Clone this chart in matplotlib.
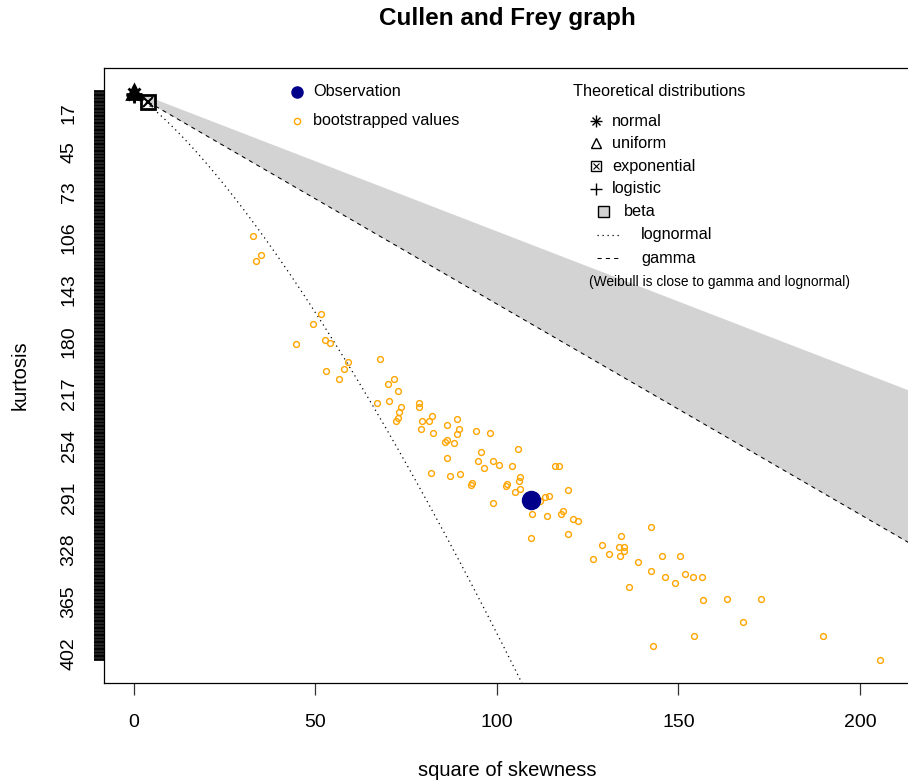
import numpy as np
import matplotlib
matplotlib.use("Agg")
import matplotlib.pyplot as plt
from matplotlib.lines import Line2D
from matplotlib.patches import Rectangle

plt.rcParams['font.family'] = ['Liberation Sans', 'DejaVu Sans']

# bootstrapped values (square of skewness, kurtosis)
boot_skew2 = [32.8, 35.0, 33.6, 51.5, 49.4, 52.6, 54.0, 44.6, 59.0, 57.9, 53.0, 56.5,
              67.8, 71.6, 69.9, 72.7, 67.1, 70.2, 73.7, 73.1, 72.7, 72.3,
              78.7, 78.7, 82.2, 79.3, 81.4,
              88.9, 86.4, 79.0, 82.5, 89.6, 88.9, 94.4, 98.0,
              85.6, 86.2, 88.1,
              105.7, 95.6, 94.8, 99.0, 100.5, 96.6, 104.3, 86.4,
              81.8, 87.0, 89.9,
              92.8, 93.2,
              106.5, 106.1, 102.9, 102.5, 106.5, 105.1,
              116.1, 117.2, 119.5,
              111.9, 113.2, 114.5, 99.0,
              109.6, 113.9, 118.1, 117.7, 121.0, 122.4,
              109.3, 119.5, 134.3, 129.0, 133.6, 135.0, 135.1, 130.8, 134.0, 126.5, 138.8,
              142.4, 145.5, 150.5, 142.4, 146.3, 151.9, 154.1, 156.5, 149.1, 136.4, 156.8, 154.3, 143.1,
              163.5, 172.7, 167.7, 189.9, 205.4]
boot_kurt = [104.6, 118.4, 122.2, 160.5, 167.0, 178.8, 180.7, 181.8, 194.6, 199.1, 200.8, 206.3,
             192.5, 206.3, 210.1, 214.7, 223.7, 222.0, 226.5, 230.1, 234.5, 236.5,
             223.7, 226.5, 233.0, 236.5, 236.5,
             234.7, 239.2, 242.0, 244.7, 242.0, 245.8, 243.7, 244.7,
             251.3, 250.1, 252.0,
             256.7, 258.5, 264.9, 265.0, 267.8, 269.7, 268.7, 263.0,
             273.3, 275.8, 274.2,
             282.3, 280.6,
             276.1, 279.0, 281.3, 282.6, 285.1, 287.1,
             268.7, 268.7, 285.3,
             293.5, 290.6, 289.7, 295.1,
             302.6, 304.4, 300.6, 302.6, 306.1, 308.0,
             319.9, 317.3, 318.3, 324.7, 326.5, 326.5, 329.4, 331.0, 332.8, 334.6, 337.1,
             311.9, 332.8, 332.8, 343.7, 347.6, 345.5, 347.6, 347.6, 352.1, 355.0, 364.0, 389.8, 396.9,
             363.0, 363.0, 379.5, 389.8, 407.1]

obs_skew2 = 109.3
obs_kurt = 292.6

kurtmax = 407
xmax = 205.4
ylab_shown = [17, 45, 73, 106, 143, 180, 217, 254, 291, 328, 365, 402]
xticks = [0, 50, 100, 150, 200]

W, H = 908, 784
fig = plt.figure(figsize=(W / 100, H / 100), dpi=100)
ax = fig.add_axes([103.9 / W, 1 - 683 / H, 806.2 / W, 615 / H])

# beta area, gamma and lognormal lines (theoretical)
s = np.linspace(0, 230, 400)
ax.fill_between(s, s + 1, 3 + 1.5 * s, color='lightgrey', lw=0)
ax.plot(s, 3 + 1.5 * s, color='black', lw=0.75, dashes=(4, 4))
es2 = np.exp(np.linspace(0, 1.3, 600) ** 2)
ln_s2 = (es2 + 2) ** 2 * (es2 - 1)
ln_k = es2 ** 4 + 2 * es2 ** 3 + 3 * es2 ** 2 - 3
ax.plot(ln_s2, ln_k, color='black', lw=0.9, dashes=(1, 3))

ax.plot(boot_skew2, boot_kurt, 'o', ms=4.2, mfc='none', mec='orange', mew=1.0)
ax.plot(obs_skew2, obs_kurt, 'o', ms=13, color='darkblue')

# theoretical distributions
ax.plot(0, 3, '+', ms=12, color='black', mew=2, clip_on=False)
ax.plot(0, 3, 'x', ms=9, color='black', mew=2, clip_on=False)
ax.plot(0, 1.8, '^', ms=10, mfc='none', color='black', mew=2, clip_on=False)
ax.plot(0, 4.2, '+', ms=12, color='black', mew=2, clip_on=False)
ax.plot(4, 9, 's', ms=10, mfc='none', color='black', mew=2, clip_on=False)
ax.plot(4, 9, 'x', ms=7, color='black', mew=1.5, clip_on=False)

ax.set_xlim(-0.04 * xmax, 1.04 * xmax + 0.2)
ax.set_ylim(kurtmax + 0.04 * (kurtmax - 1), 1 - 0.04 * (kurtmax - 1))

yt = np.arange(1, kurtmax + 1)
ax.set_yticks(yt)
ax.set_yticklabels([str(v) if v in ylab_shown else '' for v in yt],
                   rotation=90, va='center', fontsize=14)
ax.set_xticks(xticks)
ax.set_xticklabels([str(v) for v in xticks], fontsize=14)
ax.tick_params(axis='y', length=7.5, width=1.25, pad=11.5, color='black')
ax.tick_params(axis='x', length=8.5, width=0.9, pad=14, color='#333333')
for sp in ax.spines.values():
    sp.set_linewidth(0.9)
    sp.set_color('black')

fig.text(507 / W, 1 - 18 / H, 'Cullen and Frey graph', ha='center', va='center',
         fontsize=17.5, fontweight='bold')
fig.text(507 / W, 1 - 771 / H, 'square of skewness', ha='center', va='center', fontsize=14.5)
fig.text(20 / W, 1 - 375 / H, 'kurtosis', ha='center', va='center', rotation=90, fontsize=14.5)


def fx(px):
    return px / W


def fy(py):
    return 1 - py / H


def mark(px, py, **kw):
    fig.add_artist(Line2D([fx(px)], [fy(py)], transform=fig.transFigure, ls='none', **kw))


lf = 11.7
# first legend
mark(297, 92, marker='o', ms=8, color='darkblue')
fig.text(fx(313), fy(92), 'Observation', va='center', fontsize=lf)
mark(297, 121, marker='o', ms=4.5, mfc='none', mec='orange', mew=1)
fig.text(fx(313), fy(121), 'bootstrapped values', va='center', fontsize=lf)

# second legend
fig.text(fx(573), fy(92), 'Theoretical distributions', va='center', fontsize=lf)
mark(596, 121, marker='+', ms=8, color='black', mew=1)
mark(596, 121, marker='x', ms=6, color='black', mew=1)
fig.text(fx(612), fy(121), 'normal', va='center', fontsize=lf)
mark(596, 143, marker='^', ms=7, mfc='none', color='black', mew=1)
fig.text(fx(612), fy(143), 'uniform', va='center', fontsize=lf)
mark(596, 166, marker='s', ms=6.5, mfc='none', color='black', mew=1)
mark(596, 166, marker='x', ms=4.5, color='black', mew=0.8)
fig.text(fx(612), fy(166), 'exponential', va='center', fontsize=lf)
mark(596, 189, marker='+', ms=9, color='black', mew=1)
fig.text(fx(612), fy(189), 'logistic', va='center', fontsize=lf)
fig.add_artist(Rectangle((fx(598), fy(217)), 11 / W, 11 / H, transform=fig.transFigure,
                         facecolor='lightgrey', edgecolor='black', lw=1))
fig.text(fx(624), fy(212), 'beta', va='center', fontsize=lf)
fig.add_artist(Line2D([fx(597), fx(622)], [fy(235), fy(235)], transform=fig.transFigure,
                      color='black', lw=0.9, dashes=(1, 3)))
fig.text(fx(641), fy(235), 'lognormal', va='center', fontsize=lf)
fig.add_artist(Line2D([fx(597), fx(622)], [fy(258), fy(258)], transform=fig.transFigure,
                      color='black', lw=0.75, dashes=(4, 4)))
fig.text(fx(641), fy(258), 'gamma', va='center', fontsize=lf)
fig.text(fx(589), fy(282), '(Weibull is close to gamma and lognormal)', va='center', fontsize=9.9)

fig.savefig('out.png', dpi=100)
